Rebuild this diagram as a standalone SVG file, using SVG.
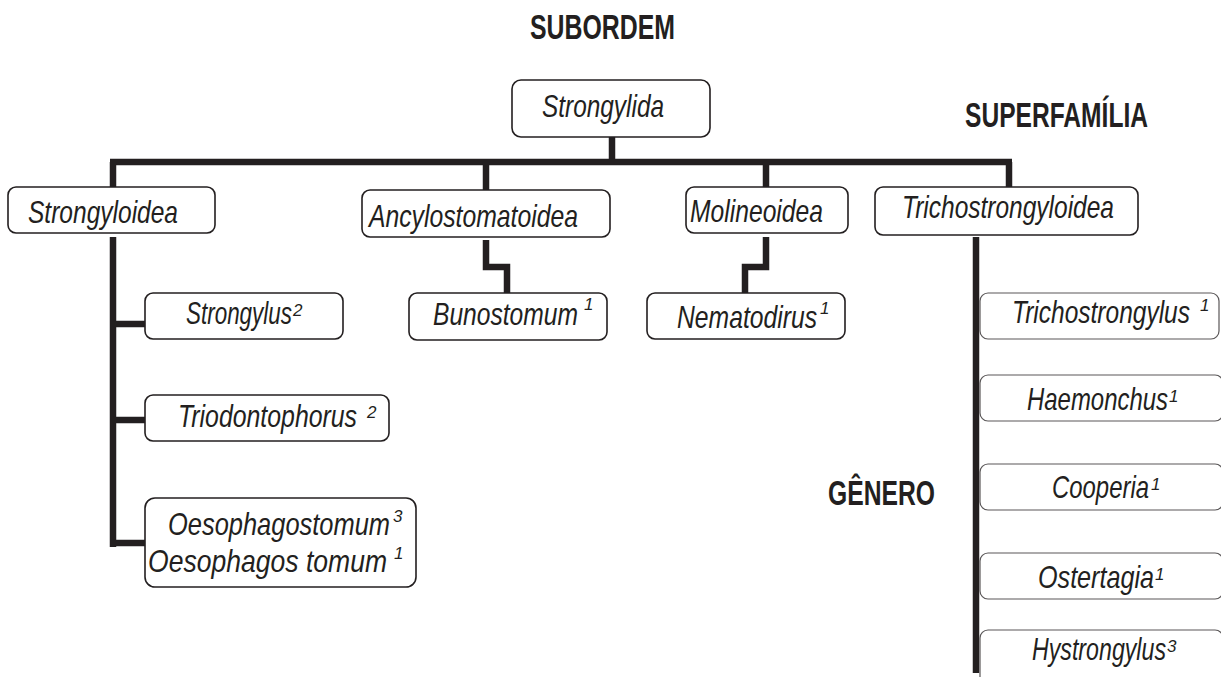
<svg xmlns="http://www.w3.org/2000/svg" width="1221" height="677" viewBox="0 0 1221 677">
<style>
.box{fill:#fff;stroke:#231f20;stroke-width:1.6}
.boxr{fill:#fff;stroke:#5a5758;stroke-width:1.2}
.lbl{font-family:"Liberation Sans",Arial,sans-serif;font-style:italic;font-size:32px;fill:#231f20}
.sup{font-family:"Liberation Sans",Arial,sans-serif;font-style:italic;font-size:17px;fill:#231f20}
.head{font-family:"Liberation Sans",Arial,sans-serif;font-weight:bold;font-size:35px;fill:#231f20}
.ln{fill:none;stroke:#231f20;stroke-width:6.5;stroke-linejoin:miter;stroke-linecap:butt}
</style>
<rect width="1221" height="677" fill="#fff"/>
<g id="headings">
<text class="head" x="530" y="39" textLength="145" lengthAdjust="spacingAndGlyphs">SUBORDEM</text>
<text class="head" x="965" y="127" textLength="183" lengthAdjust="spacingAndGlyphs">SUPERFAMÍLIA</text>
<text class="head" x="828" y="505" textLength="107" lengthAdjust="spacingAndGlyphs">GÊNERO</text>
</g>
<g id="connectors">
<path class="ln" d="M612 137V162"/>
<path class="ln" d="M110 162H1012"/>
<path class="ln" d="M113 162V187"/>
<path class="ln" d="M486 162V190"/>
<path class="ln" d="M766 162V187"/>
<path class="ln" d="M1009 162V187"/>
<path class="ln" d="M113 237V547"/>
<path class="ln" d="M113 324H145"/>
<path class="ln" d="M113 420H145"/>
<path class="ln" d="M113 543H145"/>
<path class="ln" d="M486 240V267H507V293"/>
<path class="ln" d="M766 237V267H745V293"/>
<path class="ln" d="M976 237V673"/>
</g>
<g id="strongylida">
<rect class="box" x="512" y="80" width="198" height="57" rx="9"/>
<text class="lbl" x="542" y="117" textLength="122" lengthAdjust="spacingAndGlyphs">Strongylida</text>
</g>
<g id="strongyloidea">
<rect class="box" x="8" y="187" width="207" height="46" rx="8"/>
<text class="lbl" x="28" y="223" textLength="150" lengthAdjust="spacingAndGlyphs">Strongyloidea</text>
</g>
<g id="ancylostomatoidea">
<rect class="box" x="362" y="190" width="248" height="47" rx="8"/>
<text class="lbl" x="369" y="227" textLength="209" lengthAdjust="spacingAndGlyphs">Ancylostomatoidea</text>
</g>
<g id="molineoidea">
<rect class="box" x="686" y="187" width="162" height="46" rx="8"/>
<text class="lbl" x="690" y="222" textLength="133" lengthAdjust="spacingAndGlyphs">Molineoidea</text>
</g>
<g id="trichostrongyloidea">
<rect class="box" x="875" y="187" width="263" height="48" rx="8"/>
<text class="lbl" x="902" y="218" textLength="212" lengthAdjust="spacingAndGlyphs">Trichostrongyloidea</text>
</g>
<g id="strongylus">
<rect class="box" x="145" y="293" width="198" height="46" rx="8"/>
<text class="lbl" x="186" y="324" textLength="106" lengthAdjust="spacingAndGlyphs">Strongylus</text>
<text class="sup" x="293" y="315.5">2</text>
</g>
<g id="triodontophorus">
<rect class="box" x="145" y="395" width="244" height="46" rx="8"/>
<text class="lbl" x="178" y="427" textLength="179" lengthAdjust="spacingAndGlyphs">Triodontophorus</text>
<text class="sup" x="367" y="417.5">2</text>
</g>
<g id="oesophagostomum">
<rect class="box" x="145" y="498" width="271" height="89" rx="10"/>
<text class="lbl" x="168" y="535" textLength="222" lengthAdjust="spacingAndGlyphs">Oesophagostomum</text>
<text class="sup" x="393" y="521.5">3</text>
<text class="lbl" x="148" y="572" textLength="239" lengthAdjust="spacingAndGlyphs">Oesophagos tomum</text>
<text class="sup" x="394" y="558.5">1</text>
</g>
<g id="bunostomum">
<rect class="box" x="409" y="293" width="198" height="47" rx="8"/>
<text class="lbl" x="433" y="325" textLength="145" lengthAdjust="spacingAndGlyphs">Bunostomum</text>
<text class="sup" x="584" y="309.5">1</text>
</g>
<g id="nematodirus">
<rect class="box" x="647" y="293" width="198" height="46" rx="8"/>
<text class="lbl" x="677" y="328" textLength="140" lengthAdjust="spacingAndGlyphs">Nematodirus</text>
<text class="sup" x="820" y="313.5">1</text>
</g>
<g id="trichostrongylus">
<rect class="boxr" x="980" y="293" width="239" height="46" rx="8"/>
<text class="lbl" x="1012" y="323" textLength="178" lengthAdjust="spacingAndGlyphs">Trichostrongylus</text>
<text class="sup" x="1200" y="310.5">1</text>
</g>
<g id="haemonchus">
<rect class="boxr" x="980" y="375" width="243" height="46" rx="8"/>
<text class="lbl" x="1027" y="410" textLength="141" lengthAdjust="spacingAndGlyphs">Haemonchus</text>
<text class="sup" x="1169" y="401.5">1</text>
</g>
<g id="cooperia">
<rect class="boxr" x="980" y="464" width="243" height="46" rx="8"/>
<text class="lbl" x="1052" y="498" textLength="97" lengthAdjust="spacingAndGlyphs">Cooperia</text>
<text class="sup" x="1151" y="489.5">1</text>
</g>
<g id="ostertagia">
<rect class="boxr" x="980" y="553" width="243" height="46" rx="8"/>
<text class="lbl" x="1038" y="588" textLength="116" lengthAdjust="spacingAndGlyphs">Ostertagia</text>
<text class="sup" x="1155" y="579.5">1</text>
</g>
<g id="hystrongylus">
<rect class="boxr" x="980" y="630" width="243" height="60" rx="8"/>
<text class="lbl" x="1032" y="660" textLength="134" lengthAdjust="spacingAndGlyphs">Hystrongylus</text>
<text class="sup" x="1167" y="651.5">3</text>
</g>
</svg>
